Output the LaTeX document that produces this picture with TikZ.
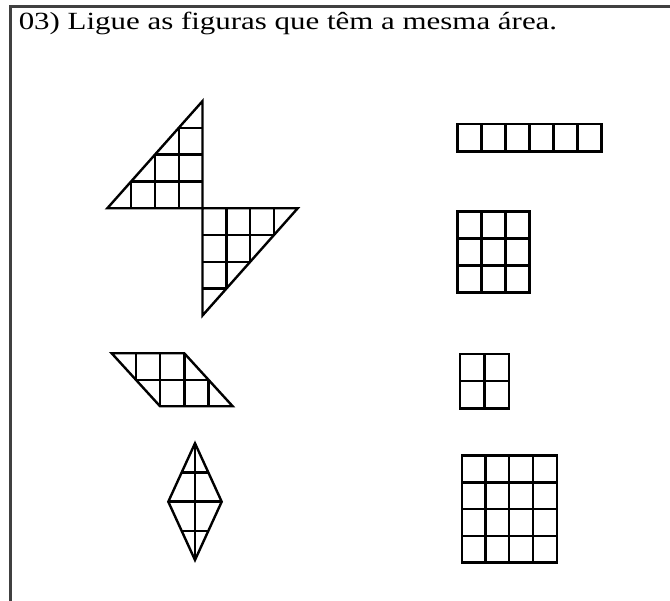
\documentclass[tikz,border=0pt]{standalone}
\usepackage{fontspec}
\setmainfont{Liberation Serif}
\newcommand{\gridfig}[6]{%
  \begin{scope}[shift={(#1,#2)}, x=#5pt, y=-#6pt]
    \draw[fig] (0,0) rectangle (#3,#4);
    \foreach \i in {1,...,#3}{\ifnum\i<#3 \draw[fig] (\i,0) -- (\i,#4);\fi}
    \foreach \j in {1,...,#4}{\ifnum\j<#4 \draw[fig] (0,\j) -- (#3,\j);\fi}
  \end{scope}}
\begin{document}
\begin{tikzpicture}[x=1pt, y=-1pt,
  fig/.style={line width=2.4pt, black, line join=miter},
  frame/.style={line width=3pt, black!75},
  title/.style={anchor=base west, inner sep=0pt, font=\fontsize{24.7}{29}\selectfont, xscale=1.252}]
\useasboundingbox (0,0) rectangle (670,601);
% frame
\coordinate (fc) at (10.5,6.5);
\coordinate (fr) at (670,6.5);
\coordinate (fb) at (10.5,601);
\draw[frame] (fr) -- (fc) -- (fb);
\node[title] (t) at (18.5,29.3) {03) Ligue as figuras que têm a mesma área.};
% zigzag upper triangle (y up)
\begin{scope}[shift={(202.5,208.3)}, x=23.8pt, y=26.8pt]
  \draw[fig] (-4,0) -- (0,4) -- (0,0) -- cycle;
  \foreach \j in {1,2,3}{
    \draw[fig] (-4+\j,0) -- (-4+\j,\j);
    \draw[fig] (-4+\j,\j) -- (0,\j);
  }
\end{scope}
% zigzag lower triangle (y down)
\begin{scope}[shift={(202.5,208.3)}, x=23.8pt, y=-26.8pt]
  \draw[fig] (0,0) -- (4,0) -- (0,4) -- cycle;
  \foreach \j in {1,2,3}{
    \draw[fig] (\j,0) -- (\j,4-\j);
    \draw[fig] (0,\j) -- (4-\j,\j);
  }
\end{scope}
% parallelogram (y down)
\begin{scope}[shift={(111.7,353.3)}, x=24.2pt, y=-26.5pt]
  \draw[fig] (0,0) -- (3,0) -- (5,2) -- (2,2) -- cycle;
  \draw[fig] (1,0) -- (1,1);
  \draw[fig] (2,0) -- (2,2);
  \draw[fig] (3,0) -- (3,2);
  \draw[fig] (4,1) -- (4,2);
  \draw[fig] (1,1) -- (4,1);
\end{scope}
% diamond
\coordinate (dt) at (195,443.3);
\coordinate (db) at (195,560);
\coordinate (dl) at (168.3,501.7);
\coordinate (dr) at (221.7,501.7);
\draw[fig] (dt) -- (dr) -- (db) -- (dl) -- cycle;
\draw[fig] (dt) -- (db);
\draw[fig] (dl) -- (dr);
\draw[fig] (181.65,472.5) -- (208.35,472.5);
\draw[fig] (181.65,530.9) -- (208.35,530.9);
% right side squares
\gridfig{457.3}{124}{6}{1}{24}{27.7}
\gridfig{457.3}{211.7}{3}{3}{24}{27}
\gridfig{460}{354}{2}{2}{24.5}{27.2}
\gridfig{461.7}{455.7}{4}{4}{23.75}{26.75}
\end{tikzpicture}
\end{document}
